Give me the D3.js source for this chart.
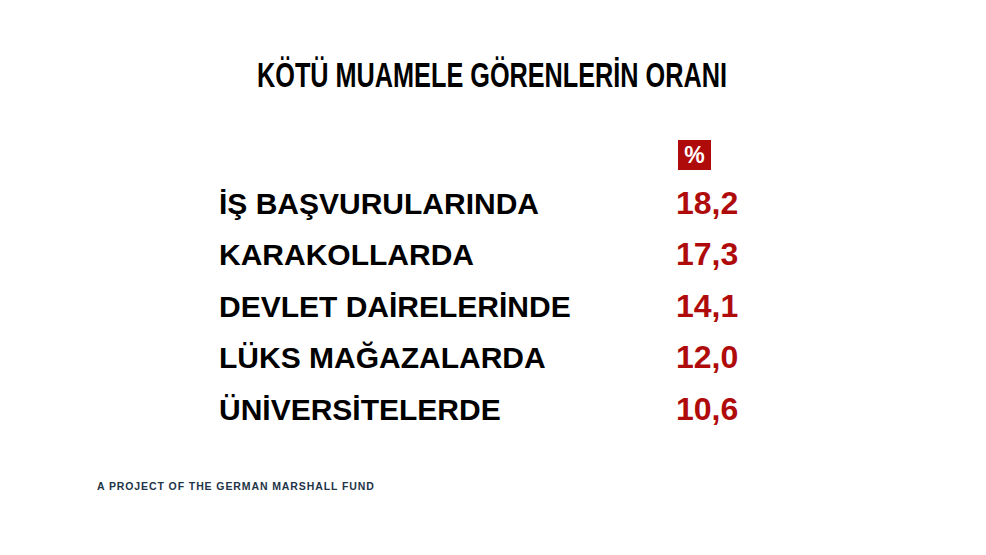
<!DOCTYPE html>
<html>
<head>
<meta charset="utf-8">
<script src="https://cdn.jsdelivr.net/npm/d3@7"></script>
<style>
  html, body { margin: 0; padding: 0; background: #fff; }
  svg { display: block; }
</style>
</head>
<body>
<svg id="chart"></svg>
<script>
var w = 986;
var h = 555;

var title = 'KÖTÜ MUAMELE GÖRENLERİN ORANI';
var unitLabel = '%';
var places = ['İŞ BAŞVURULARINDA', 'KARAKOLLARDA', 'DEVLET DAİRELERİNDE', 'LÜKS MAĞAZALARDA', 'ÜNİVERSİTELERDE'];
var shares = [18.2, 17.3, 14.1, 12.0, 10.6];
var footer = 'A PROJECT OF THE GERMAN MARSHALL FUND';

var red = '#b00b0b';
var fmt = function (v) { return d3.format('.1f')(v).replace('.', ','); };

var svg = d3.select('#chart').attr('width', w).attr('height', h);

// rows placed with a band scale
var y = d3.scaleBand().domain(places).range([180, 437]).paddingInner(0);

svg.append('text')
    .attr('x', 492)
    .attr('y', 87)
    .attr('text-anchor', 'middle')
    .attr('font-family', '"Liberation Sans Narrow", "Liberation Sans", Arial, sans-serif')
    .attr('font-weight', 'bold')
    .attr('font-size', 35)
    .attr('textLength', 470)
    .attr('lengthAdjust', 'spacingAndGlyphs')
    .attr('fill', '#000')
    .text(title);

// % badge
var badge = svg.append('g').attr('transform', 'translate(678,140)');
badge.append('rect').attr('width', 33).attr('height', 30).attr('fill', red);
badge.append('text')
    .attr('x', 16.5)
    .attr('y', 23)
    .attr('text-anchor', 'middle')
    .attr('font-family', '"Liberation Sans", Arial, sans-serif')
    .attr('font-weight', 'bold')
    .attr('font-size', 23)
    .attr('fill', '#fff')
    .text(unitLabel);

var rows = svg.selectAll('.row').data(places).enter().append('g')
    .attr('class', 'row')
    .attr('transform', function (d) { return 'translate(0,' + (y(d) + y.bandwidth() * 0.66) + ')'; });

rows.append('text')
    .attr('x', 219)
    .attr('font-family', '"Liberation Sans", Arial, sans-serif')
    .attr('font-weight', 'bold')
    .attr('font-size', 30)
    .attr('fill', '#000')
    .text(function (d) { return d; });

rows.append('text')
    .attr('x', 676)
    .attr('font-family', '"Liberation Sans", Arial, sans-serif')
    .attr('font-weight', 'bold')
    .attr('font-size', 32)
    .attr('fill', red)
    .text(function (d, i) { return fmt(shares[i]); });

svg.append('text')
    .attr('x', 97)
    .attr('y', 490)
    .attr('font-family', '"Liberation Sans", Arial, sans-serif')
    .attr('font-weight', 'bold')
    .attr('font-size', 10.5)
    .attr('letter-spacing', 0.9)
    .attr('fill', '#1e3447')
    .text(footer);
</script>
</body>
</html>
